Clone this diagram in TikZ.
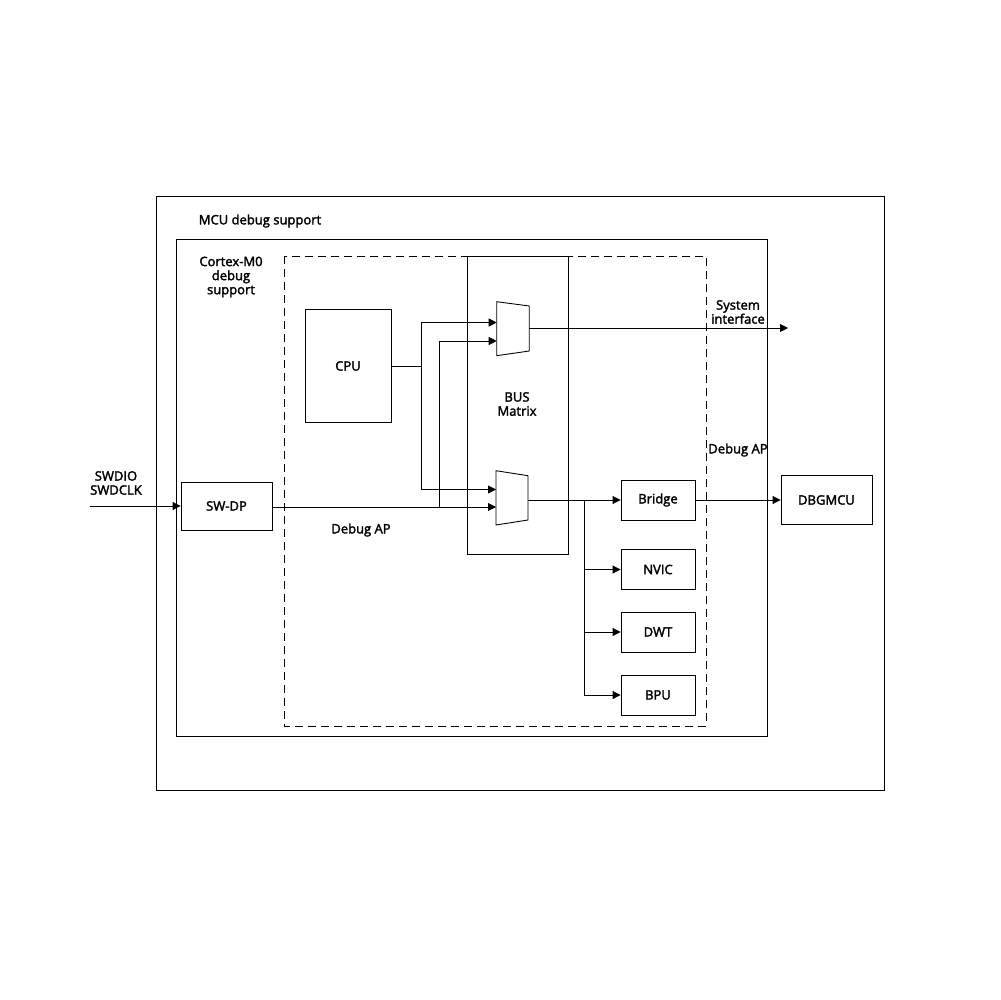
\documentclass[tikz,border=0pt]{standalone}
\usepackage{fontspec}
\setmainfont{Open Sans}
\newfontfamily\lblfont{Open Sans}[FakeBold=2.2]
\usetikzlibrary{arrows.meta}
\begin{document}
\begin{tikzpicture}[
		x=0.02cm, y=-0.02cm,
		line width=0.5pt,
		>={Triangle[length=1.6mm,width=1.6mm]},
		blk/.style={draw, inner sep=0pt, minimum width=1.48cm, minimum height=0.8cm, font=\lblfont\fontsize{7.4}{8}\selectfont},
		lbl/.style={font=\lblfont\fontsize{7.4}{8}\selectfont, align=center, inner sep=0pt},
		frame/.style={draw},
		apframe/.style={draw, dash pattern=on 1.6mm off 1mm}
		]
		\useasboundingbox (0,0) rectangle (1000,1000);
		% --- рамки ---
		\draw[frame] (156,196) rectangle (884,790);
		\draw[frame] (176,239) rectangle (767,736);
		\draw[apframe] (284,256) rectangle (706,726);
		\node[blk, minimum width=2.02cm, minimum height=5.96cm] (bus) at (517.5,405) {};
		\node[lbl] (mcu) at (260,221) {MCU debug support};
		\node[lbl] (m0) at (231,277) {Cortex-M0\\debug\\support};
		\node[lbl] (busl) at (517,404) {BUS\\Matrix};
		% --- блоки ---
		\node[blk, minimum width=1.72cm, minimum height=2.26cm] (cpu) at (348,366) {CPU};
		\node[blk, minimum width=1.82cm, minimum height=0.96cm] (swdp) at (226.5,506) {SW-DP};
		\node[blk] (bridge) at (658,500) {Bridge};
		\node[blk] (nvic) at (658,569.5) {NVIC};
		\node[blk] (dwt) at (658,632) {DWT};
		\node[blk] (bpu) at (658,695) {BPU};
		\node[blk, minimum width=1.82cm, minimum height=0.98cm] (dbgmcu) at (826.5,500) {DBGMCU};
		% --- мультиплексоры ---
		\draw (496.7,301.7) -- (529.3,306) -- (529.3,351) -- (496.7,355.7) -- cycle;
		\draw (496,470.7) -- (528,475.7) -- (528,520) -- (496,525) -- cycle;
		\coordinate (m1in1) at (496.7,322.5);
		\coordinate (m1in2) at (496.7,341);
		\coordinate (m1out) at (529.3,328);
		\coordinate (m2in1) at (496,489.5);
		\coordinate (m2in2) at (496,507);
		\coordinate (m2out) at (528,500);
		\coordinate (j1) at (421,366);
		\coordinate (j2) at (439.5,507);
		\coordinate (j3) at (584,500);
		\coordinate (swin) at (90,506);
		\coordinate (sysout) at (788,328);
		% --- связи ---
		\draw[->] (swin) -- (swdp.west);
		\draw[->] (swdp.east |- m2in2) -- (m2in2);
		\draw[->] (j2) |- (m1in2);
		\draw[->] (cpu.east) -- (j1) |- (m1in1);
		\draw[->] (j1) |- (m2in1);
		\draw[->] (m1out) -- (sysout);
		\draw[->] (m2out) -- (bridge.west);
		\draw[->] (j3) |- (nvic.west);
		\draw[->] (j3) |- (dwt.west);
		\draw[->] (j3) |- (bpu.west);
		\draw[->] (bridge.east) -- (dbgmcu.west);
		% --- подписи ---
		\node[lbl] (swl) at (116,483) {SWDIO\\SWDCLK};
		\node[lbl] (sysl) at (738,312) {System\\interface};
		\node[lbl] (apr) at (738,450) {Debug AP};
		\node[lbl] (apl) at (361,530) {Debug AP};
	\end{tikzpicture}
\end{document}
